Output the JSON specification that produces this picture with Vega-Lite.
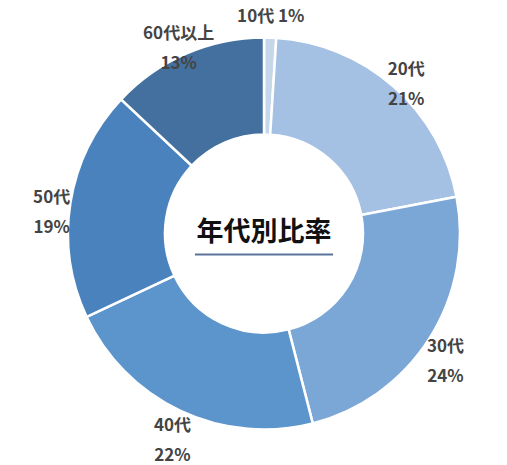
{
  "$schema": "https://vega.github.io/schema/vega-lite/v6.json",
  "width": 486,
  "height": 463,
  "autosize": "none",
  "padding": {"left": 21, "right": 0, "top": 2, "bottom": 0},
  "background": "white",
  "view": {"stroke": null},
  "data": {
    "values": [
      {"age": "10代", "share": 1, "label": ["10代 1%"]},
      {"age": "20代", "share": 21, "label": ["20代", "21%"]},
      {"age": "30代", "share": 24, "label": ["30代", "24%"]},
      {"age": "40代", "share": 22, "label": ["40代", "22%"]},
      {"age": "50代", "share": 19, "label": ["50代", "19%"]},
      {"age": "60代以上", "share": 13, "label": ["60代以上", "13%"]}
    ]
  },
  "encoding": {
    "theta": {"field": "share", "type": "quantitative", "stack": true},
    "order": {"field": "age", "type": "ordinal"},
    "color": {
      "field": "age",
      "type": "nominal",
      "legend": null,
      "sort": ["10代", "20代", "30代", "40代", "50代", "60代以上"],
      "scale": {
        "domain": ["10代", "20代", "30代", "40代", "50代", "60代以上"],
        "range": ["#c6d7ec", "#a4c0e2", "#7ba7d7", "#5b95cc", "#4a82be", "#43709f"]
      }
    }
  },
  "layer": [
    {
      "mark": {"type": "arc", "outerRadius": 196, "innerRadius": 99, "stroke": "white", "strokeWidth": 2.5}
    },
    {
      "mark": {
        "type": "text",
        "radius": 215,
        "font": "Noto Sans CJK JP",
        "fontSize": 17,
        "fontWeight": "bold",
        "lineHeight": 30,
        "align": "center",
        "baseline": "middle",
        "dy": -2
      },
      "encoding": {
        "text": {"field": "label"},
        "color": {"value": "#444444"}
      }
    },
    {
      "data": {"values": [{"title": "年代別比率"}]},
      "mark": {
        "type": "text",
        "font": "Noto Sans CJK JP",
        "fontSize": 27,
        "fontWeight": "bold",
        "color": "#111111",
        "dy": -1
      },
      "encoding": {
        "text": {"field": "title"},
        "theta": null,
        "order": null,
        "color": null
      }
    },
    {
      "data": {"values": [{"x0": -69, "x1": 69}]},
      "mark": {"type": "rule", "color": "#5a7398", "strokeWidth": 2},
      "encoding": {
        "x": {"field": "x0", "type": "quantitative", "scale": {"domain": [-243, 243]}, "axis": null},
        "x2": {"field": "x1"},
        "y": {"datum": 21, "type": "quantitative", "scale": {"domain": [231.5, -231.5]}, "axis": null},
        "theta": null,
        "order": null,
        "color": null
      }
    }
  ]
}
